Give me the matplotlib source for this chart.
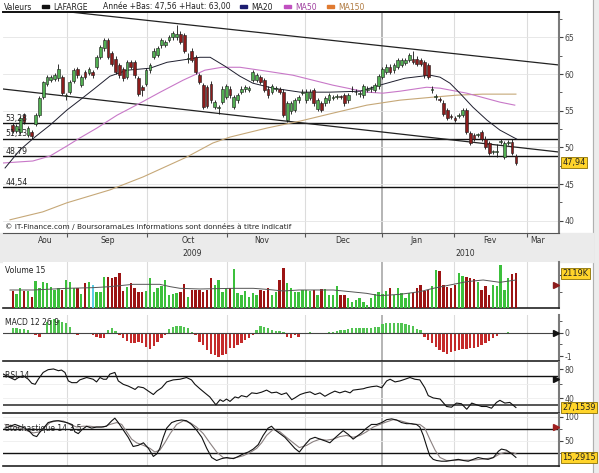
import numpy as np
import matplotlib
matplotlib.use('Agg')
import matplotlib.pyplot as plt
from matplotlib.patches import Rectangle
from matplotlib.lines import Line2D
from matplotlib.transforms import blended_transform_factory as blend

# ---------------- data ----------------
opens = [53.0, 52.2, 52.1, 54.4, 51.7, 52.1, 53.2, 54.4, 56.9, 58.7,
         59.2, 59.3, 59.4, 59.6, 57.0, 57.6, 59.1, 60.7, 58.5, 60.3,
         60.2, 60.3, 61.0, 62.3, 63.5, 64.6, 62.8, 62.1, 61.2, 60.7,
         59.6, 61.6, 61.6, 59.4, 58.2, 58.7, 60.5, 62.3, 62.6, 63.9,
         64.0, 64.6, 65.0, 65.0, 65.5, 65.3, 62.1, 63.2, 62.3, 59.8,
         58.5, 58.2, 58.7, 55.5, 55.4, 56.2, 56.9, 58.0, 55.5, 56.4,
         57.6, 57.9, 57.8, 59.2, 59.2, 59.6, 59.2, 58.0, 57.6, 58.0,
         57.9, 57.6, 53.7, 54.9, 55.1, 56.4, 57.4, 56.4, 56.7, 57.8,
         55.3, 56.0, 56.0, 56.4, 56.8, 56.9, 57.0, 57.1, 56.4, 57.9,
         57.5, 57.3, 57.1, 57.8, 57.9, 57.8, 58.3, 59.6, 60.3, 61.0,
         60.5, 61.0, 61.2, 61.5, 61.9, 62.1, 62.1, 61.9, 61.6, 61.2,
         57.8, 56.9, 56.6, 56.1, 55.1, 54.3, 54.0, 54.3, 54.4, 55.1,
         51.9, 51.7, 51.7, 52.1, 51.2, 50.6, 49.4, 49.4, 50.8, 48.7,
         50.6, 50.8, 48.8]
closes = [52.3, 52.9, 54.0, 53.5, 52.6, 51.5, 54.4, 56.7, 58.9, 59.6,
          59.6, 59.9, 60.7, 57.4, 57.1, 58.9, 60.5, 59.8, 59.6, 59.6,
          60.7, 59.8, 62.3, 63.7, 64.6, 62.3, 61.4, 60.3, 59.8, 59.4,
          61.6, 61.0, 59.8, 57.3, 57.8, 60.5, 61.2, 63.2, 63.5, 64.6,
          64.4, 65.0, 65.6, 65.5, 64.4, 63.2, 62.2, 61.9, 60.3, 58.9,
          55.5, 55.7, 56.4, 56.2, 55.5, 58.0, 58.3, 57.1, 56.9, 57.1,
          58.0, 58.2, 58.1, 60.3, 59.8, 58.9, 57.8, 57.1, 58.3, 58.1,
          57.6, 54.4, 56.0, 56.0, 56.4, 56.9, 57.5, 57.6, 57.6, 56.0,
          56.4, 55.1, 56.7, 57.1, 56.9, 57.0, 56.9, 56.0, 57.1, 57.9,
          57.6, 57.3, 58.3, 58.0, 58.1, 58.5, 59.7, 60.7, 61.0, 60.3,
          61.2, 61.9, 61.9, 61.9, 62.6, 61.6, 61.4, 61.4, 59.8, 59.6,
          57.9, 56.9, 56.5, 54.6, 54.0, 54.2, 53.7, 54.4, 55.1, 52.1,
          50.6, 51.2, 51.7, 51.2, 50.1, 49.2, 49.4, 49.4, 50.8, 50.6,
          50.7, 49.2, 47.94]
highs = [53.3, 53.2, 54.3, 54.7, 52.9, 52.4, 54.7, 57.0, 59.1, 59.9,
         59.9, 60.2, 61.3, 59.9, 57.4, 59.2, 60.8, 61.0, 59.9, 60.6,
         61.0, 60.6, 62.6, 64.0, 64.9, 64.9, 63.1, 62.4, 61.5, 61.0,
         61.9, 61.9, 61.9, 59.7, 58.5, 60.8, 61.5, 63.5, 63.8, 64.9,
         64.7, 65.3, 65.9, 66.7, 65.8, 65.6, 62.8, 63.5, 62.6, 60.1,
         58.8, 58.5, 59.0, 56.5, 55.8, 58.3, 58.6, 58.3, 57.2, 57.4,
         58.3, 58.5, 58.4, 60.6, 60.1, 59.9, 59.5, 58.3, 58.6, 58.4,
         58.2, 57.9, 56.3, 56.3, 56.7, 57.2, 58.0, 57.9, 57.9, 58.1,
         56.7, 56.3, 57.0, 57.4, 57.2, 57.3, 57.2, 57.4, 57.4, 58.3,
         57.9, 57.7, 58.6, 58.3, 58.4, 58.8, 60.0, 61.0, 61.3, 61.3,
         61.5, 62.2, 62.2, 62.2, 62.9, 63.2, 62.4, 62.2, 61.9, 61.5,
         58.3, 57.3, 56.9, 56.4, 55.4, 54.6, 54.3, 54.7, 55.4, 55.4,
         52.2, 52.0, 52.0, 52.4, 51.5, 50.9, 49.7, 50.4, 51.1, 50.9,
         51.0, 51.1, 49.1]
lows = [51.9, 51.9, 51.8, 53.2, 51.4, 51.1, 52.9, 54.2, 56.6, 58.4,
        58.9, 59.0, 59.1, 57.1, 56.4, 57.3, 58.8, 59.5, 58.2, 59.3,
        59.9, 59.5, 60.7, 62.0, 63.2, 62.0, 61.1, 60.0, 59.5, 59.1,
        59.3, 60.7, 59.5, 57.0, 57.0, 58.4, 60.2, 62.0, 62.3, 63.6,
        63.7, 64.3, 64.7, 64.7, 64.1, 62.9, 61.5, 61.6, 60.0, 58.6,
        55.2, 55.4, 56.1, 55.2, 54.5, 55.9, 56.6, 56.8, 55.2, 56.1,
        57.3, 57.6, 57.5, 58.9, 58.9, 58.6, 57.5, 56.8, 57.3, 57.7,
        57.3, 54.1, 53.4, 54.6, 54.8, 56.1, 57.1, 56.1, 56.4, 55.7,
        55.0, 54.8, 55.7, 56.1, 56.5, 56.6, 56.6, 55.7, 56.1, 57.5,
        57.2, 56.9, 56.8, 57.5, 57.6, 57.5, 58.0, 59.3, 60.0, 60.0,
        60.2, 60.7, 60.9, 61.2, 61.6, 61.3, 61.1, 61.1, 59.5, 59.3,
        57.4, 56.5, 56.2, 54.3, 53.7, 53.9, 53.4, 54.0, 54.1, 51.8,
        50.3, 50.9, 51.4, 50.9, 49.8, 48.9, 49.1, 48.7, 50.5, 48.4,
        50.3, 48.9, 47.56]

# moving averages, vertices (trading-day index, price)
ma20_x = [-2.0, 1.9, 5.8, 9.8, 14.2, 17.6, 21.6, 25.5, 30.0, 36.0, 40.5, 45.7, 49.1, 51.8,
          55.7, 59.6, 63.0, 68.3, 75.4, 83.2, 91.1, 97.1, 102.9, 109.5, 112.1, 114.7,
          117.3, 120.7, 124.4, 127.8, 131.2, 132.2]
ma20_y = [47.2, 49.65, 51.4, 53.04, 55.08, 56.44, 58.07, 59.7, 60.52, 60.79, 61.6, 62.0, 62.28,
          62.28, 61.06, 59.7, 58.75, 58.07, 57.53, 57.53, 57.66, 58.6, 59.43, 59.84, 59.57,
          58.75, 57.39, 55.49, 53.72, 52.36, 51.41, 51.14]
ma50_x = [-2.5, 5.3, 9.8, 14.2, 17.6, 22.1, 27.4, 33.4, 38.7, 44.7, 50.4, 54.9, 59.6, 66.7,
          73.5, 84.0, 92.9, 97.1, 101.6, 108.6, 112.1, 119.1, 127.8, 131.7]
ma50_y = [47.88, 48.15, 48.83, 50.19, 51.28, 52.64, 54.4, 56.03, 57.53, 59.16, 60.52, 60.92,
          60.92, 60.38, 59.84, 58.48, 57.53, 57.39, 57.66, 58.2, 58.07, 57.39, 56.17, 55.76]
ma150_x = [-0.7, 7.9, 14.2, 25.5, 34.2, 45.7, 52.5, 57.0, 66.7, 75.4, 84.0, 92.9, 101.6,
           110.3, 116.5, 123.3, 132.0]
ma150_y = [40.14, 41.22, 42.45, 44.21, 45.98, 48.7, 50.6, 51.41, 52.64, 53.59, 54.67, 55.76,
           56.44, 56.85, 57.12, 57.26, 57.26]

# trend lines and support levels
trend_hi_x = [15.0, 143.3]
trend_hi_y = [68.45, 61.23]
trend_lo_x = [-2.54, 143.3]
trend_lo_y = [57.96, 49.37]
levels = [53.28, 51.13, 48.79, 44.54]
level_labels = ['53,28', '51,13', '48,79', '44,54']

volumes = [1047, 845, 1208, 1047, 1047, 704, 1652, 1208, 1611, 1511,
           1309, 1107, 1248, 1107, 1712, 1611, 1208, 1248, 845, 1511,
           1611, 1410, 1006, 1006, 1914, 1914, 1853, 1914, 2116, 1047,
           1309, 1511, 1248, 1006, 966, 1047, 1813, 1006, 1208, 1369,
           1712, 805, 845, 905, 1006, 1450, 704, 1107, 1107, 1107,
           1006, 1107, 1853, 1410, 1712, 1006, 1248, 1208, 2378, 905,
           805, 1047, 704, 905, 805, 1107, 1047, 1248, 805, 1006,
           1712, 2459, 1511, 1208,
           1006, 1006, 1107, 1107, 1047, 1107, 805, 1148, 1148, 805,
           805, 1349, 805, 805, 603, 401, 502, 603, 401, 200,
           643, 845, 1006, 845, 1047, 1248, 805, 1208, 905, 603,
           905, 905, 1248, 1410, 1047, 1107, 1369, 2318, 2257, 1410,
           1309, 1248, 1410, 2116, 1974, 1914, 1853, 1773, 1611, 1107,
           1369, 805, 1410, 1369, 2620, 1107, 1813, 2055, 2119]
vol_highlight = 21
vol_ma_x = [-0.7, 5.4, 14.2, 21.1, 25.5, 31.6, 38.6, 41.3, 43.9, 49.1, 57.9, 63.1, 66.6,
            71.0, 75.1, 84.1, 88.5, 92.8, 96.3, 101.6, 106.8, 110.3, 114.7, 119.1, 123.4,
            127.8, 132.0]
vol_ma_y = [1107, 1107, 1208, 1248, 1309, 1450, 1450, 1309, 1208, 1168, 1208, 1208, 1148,
            1047, 1107, 1107, 1006, 905, 764, 845, 1006, 1208, 1410, 1611, 1712, 1571, 1712]

macd_hist = [0.21, 0.19, 0.16, 0.16, 0.11, -0.03, -0.10, -0.17, -0.07, 0.47,
             0.54, 0.59, 0.54, 0.47, 0.40, 0.26, 0.01, -0.10, -0.06, -0.07,
             -0.07, -0.10, -0.17, -0.21, -0.21, 0.11, 0.21, 0.07, -0.10, -0.24,
             -0.36, -0.46, -0.46, -0.41, -0.46, -0.60, -0.70, -0.56, -0.41, -0.24,
             -0.10, 0.16, 0.26, 0.30, 0.30, 0.26, 0.19, 0.04, -0.10, -0.39,
             -0.53, -0.74, -0.89, -0.96, -1.03, -0.96, -0.89, -0.67, -0.64, -0.53,
             -0.46, -0.31, -0.21, -0.10, 0.11, 0.30, 0.26, 0.19, 0.11, 0.07,
             0.07, 0.04, -0.17, -0.24,
             -0.10, -0.17, -0.07, 0.01, 0.04, 0.01, -0.01, 0.00, 0.00, 0.03,
             0.04, 0.07, 0.11, 0.13, 0.17, 0.19, 0.19, 0.20, 0.20, 0.21,
             0.21, 0.23, 0.26, 0.36, 0.40, 0.43, 0.43, 0.40, 0.40, 0.36,
             0.33, 0.29, 0.16, 0.11, -0.17, -0.31, -0.46, -0.60, -0.74, -0.81,
             -0.91, -0.81, -0.77, -0.74, -0.70, -0.70, -0.67, -0.64, -0.60, -0.53,
             -0.43, -0.36, -0.24, -0.14, -0.07, 0.01, 0.03, 0.00, -0.01]

rsi_x = [-2.46, -0.71, 0.6, 1.5, 2.8, 4.1, 5.0, 5.9, 6.7, 8.0, 9.3, 10.7, 12.0, 12.8, 13.7,
         14.6, 15.5, 16.8, 17.6, 19.4, 21.1, 22.0, 22.9, 23.8, 24.6, 25.5, 26.8, 27.7, 29.0,
         30.3, 31.2, 32.1, 32.9, 34.3, 35.6, 36.9, 37.8, 39.1, 40.4, 42.1, 43.9, 45.6, 46.9,
         47.8, 49.1, 50.4, 51.7, 53.3, 54.4, 55.2, 56.1, 57.0, 58.3, 59.2, 60.0, 61.4, 62.7,
         64.0, 65.3, 66.6, 67.9, 69.2, 70.5, 71.8, 73.2, 74.0, 75.4, 76.7, 78.0, 79.3, 80.6,
         81.9, 83.2, 84.5, 85.8, 87.2, 88.5, 89.3, 90.6, 92.0, 92.8, 94.1, 95.5, 96.8, 98.1,
         99.0, 100.3, 101.6, 102.9, 104.2, 105.5, 106.8, 108.1, 109.0, 110.3, 112.1, 113.8,
         115.1, 116.4, 117.7, 119.1, 120.4, 121.7, 123.0, 124.3, 125.6, 126.9, 127.8, 129.1,
         130.4, 132.0]
rsi_y = [73.3, 68.6, 65.3, 68.6, 70.9, 66.2, 60.6, 59.2, 66.2, 75.6, 79.4, 80.4, 78.0, 78.9,
         75.6, 63.9, 61.5, 61.5, 65.3, 68.6, 66.2, 62.5, 68.6, 66.2, 66.2, 73.3, 75.6, 63.9,
         59.2, 56.8, 54.5, 52.1, 55.9, 54.5, 49.8, 45.1, 49.8, 54.5, 62.5, 65.3, 66.2, 68.6,
         65.3, 59.2, 53.1, 47.4, 41.8, 30.9, 38.0, 35.6, 38.9, 35.6, 41.8, 40.4, 43.6, 41.8,
         47.4, 46.5, 48.4, 51.2, 47.4, 48.4, 45.1, 47.4, 38.0, 40.4, 45.1, 47.4, 48.8, 45.1,
         47.4, 42.7, 46.5, 49.8, 47.4, 49.8, 47.4, 51.2, 52.1, 53.1, 54.5, 55.9, 56.8, 54.5,
         63.9, 66.2, 62.5, 63.9, 66.2, 68.6, 66.2, 65.3, 54.5, 43.6, 40.4, 38.9, 28.6, 27.6,
         33.3, 32.4, 24.8, 33.3, 30.9, 28.6, 28.6, 26.2, 34.2, 37.1, 33.3, 34.2, 27.15]
rsi_last = 27.1539

stoch_k_x = [-2.0, -0.7, 0.6, 1.9, 3.2, 4.5, 5.4, 6.3, 7.2, 8.5, 9.3, 10.7, 12.0, 13.3, 14.2,
             15.5, 16.3, 17.2, 18.1, 19.4, 20.7, 22.0, 23.3, 24.6, 26.0, 26.8, 27.7, 29.0,
             30.3, 31.6, 32.9, 34.3, 35.6, 36.9, 37.8, 38.6, 39.5, 40.4, 41.7, 43.0, 44.3,
             45.6, 46.9, 48.2, 49.6, 50.9, 52.2, 53.5, 54.8, 56.1, 57.9, 59.2, 60.5, 61.8,
             63.1, 64.4, 65.7, 67.0, 67.9, 68.8, 70.1, 71.4, 72.7, 74.0, 75.2, 76.7, 78.0,
             79.3, 80.6, 82.0, 83.2, 84.5, 85.8, 86.7, 88.0, 89.3, 90.2, 91.5, 92.8, 94.1,
             95.5, 96.8, 98.1, 99.4, 100.7, 102.0, 103.3, 104.6, 105.9, 106.8, 107.7, 108.6,
             109.4, 110.3, 111.2, 112.5, 113.8, 115.6, 116.9, 118.2, 119.5, 120.8, 122.1,
             123.4, 124.7, 126.1, 127.4, 128.2, 129.5, 130.9, 132.0]
stoch_k_y = [76.5, 80.4, 84.2, 80.4, 76.5, 68.8, 61.2, 58.8, 68.8, 80.4, 88.1, 91.2, 91.9,
             89.6, 88.1, 84.2, 68.8, 65.0, 72.7, 80.4, 76.5, 78.8, 78.8, 80.4, 91.9, 97.3,
             88.1, 72.7, 57.3, 38.1, 40.4, 45.8, 34.2, 17.3, 22.7, 34.2, 57.3, 76.5, 88.1,
             91.9, 93.5, 91.9, 84.2, 72.7, 57.3, 34.2, 15.0, 8.8, 12.7, 15.0, 12.7, 17.3,
             22.7, 26.5, 32.7, 41.9, 61.2, 76.5, 80.4, 72.7, 65.0, 57.3, 45.8, 34.2, 26.5,
             41.9, 53.5, 57.3, 53.5, 49.6, 45.8, 55.8, 65.0, 71.2, 63.5, 53.5, 58.8, 66.5,
             76.5, 84.2, 84.2, 88.1, 94.2, 95.8, 93.5, 88.1, 85.8, 85.8, 84.2, 78.8, 61.2,
             38.1, 18.8, 11.2, 8.8, 7.3, 7.3, 9.6, 11.2, 8.8, 7.3, 11.2, 15.0, 12.7, 11.2,
             15.0, 28.1, 32.7, 30.4, 22.7, 15.3]
stoch_d_x = [-2.0, 0.2, 1.9, 3.7, 5.4, 7.2, 8.5, 9.8, 11.5, 13.3, 15.0, 16.8, 18.5, 20.3,
             22.0, 23.8, 25.5, 27.3, 28.6, 29.9, 31.2, 32.5, 34.3, 36.0, 37.3, 38.6, 39.9,
             41.3, 43.0, 44.8, 46.5, 48.2, 50.0, 51.7, 53.5, 55.2, 57.0, 58.7, 60.5, 62.2,
             64.0, 65.3, 66.6, 68.4, 70.1, 71.8, 73.6, 75.2, 77.1, 78.8, 80.6, 82.3, 84.1,
             85.8, 87.6, 89.3, 91.1, 92.8, 94.6, 96.3, 98.1, 99.8, 101.6, 103.3, 105.1, 106.8,
             108.1, 109.4, 110.8, 112.1, 113.8, 115.6, 117.3, 119.1, 120.8, 122.6, 124.3,
             126.1, 127.8, 129.5, 131.3, 132.0]
stoch_d_y = [84.2, 80.4, 76.5, 71.2, 66.5, 68.8, 78.8, 88.1, 91.9, 91.2, 84.2, 78.8, 80.4,
             80.4, 78.8, 78.8, 84.2, 88.1, 84.2, 68.8, 53.5, 45.8, 40.4, 34.2, 26.5, 30.4,
             45.8, 65.0, 84.2, 91.9, 88.1, 78.8, 65.0, 45.8, 26.5, 15.0, 12.7, 15.0, 18.8,
             25.0, 34.2, 45.8, 61.2, 74.2, 68.8, 57.3, 45.8, 35.8, 40.4, 48.1, 53.5, 51.2,
             53.5, 58.8, 61.2, 57.3, 61.2, 68.8, 78.8, 84.2, 89.6, 94.2, 91.9, 88.1, 84.2,
             84.2, 76.5, 53.5, 30.4, 15.0, 8.8, 8.8, 9.6, 9.6, 9.6, 11.2, 12.7, 15.0, 22.7,
             26.5, 25.0, 22.7]
stoch_last = 15.2915

month_bounds = [14.2, 35.2, 56.2, 76.7, 96.8, 115.7, 134.9]
year_bound = 96.8
month_pos = [8.5, 25.0, 46.0, 65.4, 86.6, 106.0, 125.2, 137.8]
month_names = ['Aou', 'Sep', 'Oct', 'Nov', 'Dec', 'Jan', 'Fev', 'Mar']
year_pos = [47.0, 118.6]
year_names = ['2009', '2010']

# ---------------- figure ----------------
W, H = 599, 473
XMIN, XMAX = -2.54, 143.3
FS = 5.6
plt.rcParams['font.family'] = 'DejaVu Sans'

fig = plt.figure(figsize=(W / 100, H / 100), dpi=100, facecolor='white')
fig.patches.append(Rectangle((593 / W, 0), 6 / W, 1, transform=fig.transFigure,
                             color='#ececec', zorder=-2))
fig.patches.append(Rectangle((0, 1 - 262 / H), 593 / W, 29 / H, transform=fig.transFigure,
                             color='#ebebeb', zorder=-1))
fig.add_artist(Line2D([593 / W, 593 / W], [0, 1], transform=fig.transFigure,
                      color='#b0b0b0', lw=0.8, zorder=-1))


def panel(top, bottom):
    a = fig.add_axes([3 / W, 1 - bottom / H, 556 / W, (bottom - top) / H])
    a.set_xlim(XMIN, XMAX)
    a.spines['left'].set_visible(False)
    a.spines['top'].set_visible(False)
    a.spines['right'].set_color('#7a7a7a')
    a.spines['right'].set_linewidth(1.5)
    a.spines['bottom'].set_color('#222222')
    a.yaxis.tick_right()
    a.tick_params(axis='y', labelsize=FS, colors='#444444', length=3, pad=1, width=0.8)
    a.tick_params(axis='y', which='minor', length=2, colors='#444444')
    a.set_xticks([])
    for mb in month_bounds:
        if mb == year_bound:
            a.axvline(mb, color='#a8a8a8', lw=1.2, zorder=0)
        else:
            a.axvline(mb, color='#dcdcdc', lw=0.8, zorder=0)
    return a


def value_box(a, y, txt):
    a.text(1.006, y, txt, transform=blend(a.transAxes, a.transData), va='center',
           ha='left', fontsize=FS + 0.3, color='#222222', clip_on=False, zorder=10,
           bbox=dict(boxstyle='square,pad=0.15', fc='#ffd42a', ec='#8a7000', lw=0.6))


def marker(a, y, col):
    a.plot([142.6], [y], marker='>', color=col, markersize=4, clip_on=False, zorder=10)


x = np.arange(len(opens))
o = np.array(opens)
c = np.array(closes)
up = c >= o

# ---- main price panel ----
ax = panel(12, 233)
ax.set_ylim(38.34, 68.45)
ax.spines['top'].set_visible(True)
ax.spines['top'].set_color('#111111')
ax.spines['top'].set_linewidth(1.4)
ax.spines['bottom'].set_color('#555555')
ax.set_yticks([40, 45, 50, 55, 60, 65])
ax.set_yticks([42.5, 47.5, 52.5, 57.5, 62.5, 67.5], minor=True)
ax.set_xticks(month_bounds)
ax.tick_params(axis='x', length=3, colors='#555555', labelbottom=False)
for yv in [40, 45, 50, 55, 60, 65]:
    ax.axhline(yv, color='#e4e4e4', lw=0.6, zorder=0)

for lv, lab in zip(levels, level_labels):
    ax.axhline(lv, color='#111111', lw=1.0, zorder=2)
    ax.text(0.004, lv + 0.1, lab, transform=blend(ax.transAxes, ax.transData),
            va='bottom', ha='left', fontsize=FS, color='#222222', zorder=6)

ax.plot(trend_hi_x, trend_hi_y, color='#222222', lw=0.9, zorder=2)
ax.plot(trend_lo_x, trend_lo_y, color='#222222', lw=0.9, zorder=2)

ax.plot(ma150_x, ma150_y, color='#c6a878', lw=0.8, zorder=3)
ax.plot(ma50_x, ma50_y, color='#c878c8', lw=0.8, zorder=3)
ax.plot(ma20_x, ma20_y, color='#1e1e2e', lw=0.7, zorder=3)

ax.vlines(x, lows, highs, color='#111111', lw=0.6, zorder=4)
body = np.maximum(np.abs(c - o), 0.07)
ax.bar(x, body, bottom=np.minimum(o, c), width=0.72,
       color=np.where(up, '#52ae52', '#8c1c1c'), edgecolor='#1a1a1a', lw=0.4, zorder=5)

value_box(ax, closes[-1], f'{closes[-1]:.2f}'.replace('.', ','))
ax.text(0.004, 0.012, '© IT-Finance.com / BoursoramaLes informations sont données à titre indicatif',
        transform=ax.transAxes, fontsize=5.3, color='#222222', va='bottom', ha='left')

for mp, mn in zip(month_pos, month_names):
    ax.text(mp, -0.032, mn, transform=blend(ax.transData, ax.transAxes), ha='center',
            va='center', fontsize=FS, color='#333333', clip_on=False)
for yp, yn in zip(year_pos, year_names):
    ax.text(yp, -0.095, yn, transform=blend(ax.transData, ax.transAxes), ha='center',
            va='center', fontsize=FS, color='#333333', clip_on=False)

# legend line above the chart
LFS = 5.5
ty = 1 - 7 / H
fig.text(4 / W, ty, 'Valeurs', fontsize=LFS, va='center', color='#222222')
leg = [(42, '#111111', 'LAFARGE', '#222222'),
       (240, '#1c1c70', 'MA20', '#222222'),
       (284, '#c050c0', 'MA50', '#a040a0'),
       (327, '#e07a30', 'MA150', '#b07a40')]
for px, chip, name, tc in leg:
    fig.patches.append(Rectangle((px / W, ty - 1.5 / H), 7 / W, 3 / H,
                                 transform=fig.transFigure, color=chip))
    fig.text((px + 11) / W, ty, name, fontsize=LFS, va='center', color=tc)
fig.text(103 / W, ty, 'Année +Bas: 47,56 +Haut: 63,00', fontsize=LFS, va='center',
         color='#222222')

# ---- volume panel ----
av = panel(262, 308.3)
av.set_ylim(0, 2800)
av.spines['bottom'].set_linewidth(1.2)
av.set_yticks([2000])
av.set_yticks([1000], minor=True)
av.set_yticklabels([])
vcol = np.where(up, '#3cc03c', '#9c1414').astype(object)
vcol[vol_highlight] = '#5ccfe6'
av.bar(x, volumes, width=0.62, color=list(vcol), zorder=3)
av.plot(vol_ma_x, vol_ma_y, color='#555555', lw=0.7, zorder=4)
value_box(av, volumes[-1], f'{volumes[-1]}K')
marker(av, 1400, '#8c1c1c')
fig.text(5 / W, 1 - 270 / H, 'Volume 15', fontsize=LFS, va='center', color='#222222')

# ---- MACD panel ----
am = panel(315, 361)
am.set_ylim(-1.21, 0.76)
am.spines['bottom'].set_linewidth(1.2)
am.set_yticks([0, -1])
am.set_yticklabels(['0', '-1'])
am.set_yticks([0.5, -0.5], minor=True)
mh = np.array(macd_hist)
am.bar(x, mh, width=0.62, color=np.where(mh >= 0, '#52c452', '#c42a2a'), zorder=3)
am.axhline(0, color='#444444', lw=0.8, zorder=4)
marker(am, 0, '#111111')
fig.text(5 / W, 1 - 322 / H, 'MACD 12 26 9', fontsize=LFS, va='center', color='#222222')

# ---- RSI panel ----
ar = panel(362, 413.3)
ar.set_ylim(19.2, 90.0)
ar.spines['bottom'].set_linewidth(1.2)
ar.set_yticks([80, 40])
ar.set_yticks([60], minor=True)
for yv in [40, 60]:
    ar.axhline(yv, color='#eeeeee', lw=0.6, zorder=0)
ar.axhline(70, color='#111111', lw=1.0, zorder=2)
ar.axhline(30, color='#555555', lw=1.4, zorder=2)
ar.plot(rsi_x, rsi_y, color='#111111', lw=0.8, zorder=3)
value_box(ar, rsi_last, f'{rsi_last:.4f}'.replace('.', ','))
marker(ar, 66, '#111111')
fig.text(5 / W, 1 - 375 / H, 'RSI 14', fontsize=LFS, va='center', color='#222222')

# ---- stochastic panel ----
ast = panel(414, 466)
ast.set_ylim(-2.7, 106.0)
ast.spines['bottom'].set_linewidth(1.2)
ast.set_yticks([100, 50])
ast.set_yticks([25, 75], minor=True)
for yv in [50, 100]:
    ast.axhline(yv, color='#eeeeee', lw=0.6, zorder=0)
ast.axhline(75, color='#111111', lw=1.0, zorder=2)
ast.axhline(25, color='#111111', lw=1.0, zorder=2)
ast.plot(stoch_d_x, stoch_d_y, color='#8a8080', lw=0.8, zorder=3)
ast.plot(stoch_k_x, stoch_k_y, color='#111111', lw=0.8, zorder=4)
value_box(ast, stoch_last, f'{stoch_last:.4f}'.replace('.', ','))
marker(ast, 78, '#a02020')
fig.text(5 / W, 1 - 428 / H, 'Stochastique 14 3 5', fontsize=LFS, va='center',
         color='#222222')

fig.savefig('out.png', dpi=100, facecolor=fig.get_facecolor())
